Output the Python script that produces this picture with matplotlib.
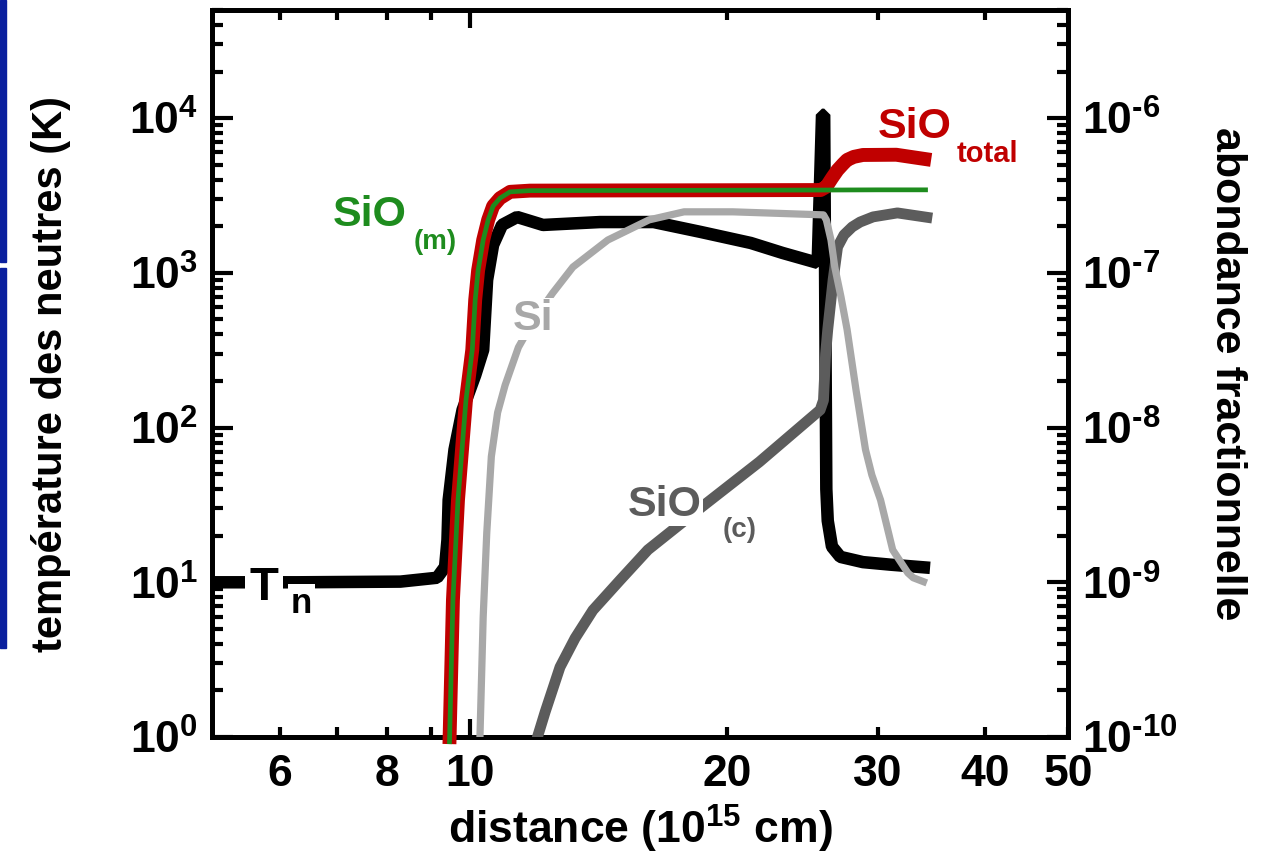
import matplotlib
matplotlib.use("Agg")
import matplotlib.pyplot as plt
from matplotlib.ticker import FixedLocator, FixedFormatter, LogLocator, NullFormatter
from matplotlib.patches import Rectangle

# ---------------- data ----------------
# neutral temperature (left axis, K)
dist_Tn = [5.0, 6.3, 8.3, 9.16, 9.36, 9.42, 9.45, 9.6, 9.81, 10.15, 10.37, 10.48, 10.65,
           10.91, 11.36, 12.18, 14.2, 16.4, 18.6, 21.3, 23.2, 25.5, 25.8, 25.95, 26.1,
           26.2, 26.5, 27.1, 28.8, 31.0, 34.5]
T_n = [10.0, 10.0, 10.1, 10.7, 12.6, 18.8, 34, 72, 130, 218, 318, 900, 1515,
       2040, 2296, 2040, 2130, 2130, 1840, 1560, 1345, 1160, 10500, 10500, 40,
       25, 17, 14.6, 13.5, 13.0, 12.4]

# SiO in the molecular phase (right axis)
dist_SiOm = [9.47, 9.56, 9.69, 9.9, 10.07, 10.15, 10.23, 10.37, 10.51, 10.65, 10.85,
             11.15, 11.76, 15.0, 20.0, 25.9, 30.0, 34.3]
SiO_m = [9e-11, 7.7e-10, 3.4e-9, 1.5e-8, 3.18e-8, 6.7e-8, 1.04e-7, 1.63e-7, 2.2e-7,
         2.7e-7, 3.04e-7, 3.34e-7, 3.4e-7, 3.41e-7, 3.42e-7, 3.43e-7, 3.44e-7, 3.44e-7]

# total SiO
dist_SiOt = [9.47, 9.56, 9.69, 9.9, 10.07, 10.15, 10.23, 10.37, 10.51, 10.65, 10.85,
             11.15, 11.76, 15.0, 20.0, 25.7, 26.1, 26.5, 26.9, 27.3, 27.6, 28.1, 28.8,
             31.5, 34.6]
SiO_tot = [9e-11, 7.7e-10, 3.4e-9, 1.5e-8, 3.18e-8, 6.7e-8, 1.04e-7, 1.63e-7, 2.2e-7,
           2.7e-7, 3.04e-7, 3.34e-7, 3.4e-7, 3.41e-7, 3.42e-7, 3.43e-7, 3.6e-7, 4.1e-7,
           4.62e-7, 5.05e-7, 5.37e-7, 5.62e-7, 5.78e-7, 5.8e-7, 5.37e-7]

# atomic Si
dist_Si = [10.25, 10.28, 10.37, 10.47, 10.6, 10.78, 11.0, 11.4, 11.92, 12.5, 13.2,
           14.5, 16.2, 17.8, 20.3, 25.9, 26.1, 26.43, 26.7, 27.15, 27.6, 28.27, 29.0,
           29.5, 30.2, 31.2, 32.5, 32.97, 34.2]
Si = [8e-11, 1e-10, 5.97e-10, 2.08e-9, 6.5e-9, 1.25e-8, 1.88e-8, 3.3e-8, 5.1e-8,
      7.4e-8, 1.09e-7, 1.63e-7, 2.2e-7, 2.48e-7, 2.48e-7, 2.37e-7, 2.2e-7, 1.63e-7,
      1.09e-7, 6.99e-8, 4.3e-8, 1.75e-8, 7.2e-9, 4.94e-9, 3.4e-9, 1.62e-9, 1.15e-9,
      1.07e-9, 9.9e-10]

# condensed SiO
dist_SiOc = [11.9, 12.0, 12.25, 12.75, 13.28, 13.93, 14.98, 16.15, 18.57, 21.8, 25.67,
             25.9, 26.05, 26.2, 26.58, 26.9, 27.37, 27.98, 28.58, 29.6, 31.6, 34.7]
SiO_c = [8e-11, 1e-10, 1.45e-10, 2.83e-10, 4.36e-10, 6.6e-10, 1.03e-9, 1.62e-9, 3.0e-9,
         6.0e-9, 1.3e-8, 1.5e-8, 3e-8, 4.3e-8, 9.0e-8, 1.47e-7, 1.76e-7, 1.98e-7,
         2.13e-7, 2.3e-7, 2.44e-7, 2.26e-7]

# axes / ticks
x_limits = [5, 50]
T_limits = [1, 5e4]
ab_limits = [1e-10, 5e-6]
x_major = [10]
x_major_labels = ["10"]
x_minor = [6, 7, 8, 9, 20, 30, 40, 50]
x_minor_labels = ["6", "", "8", "", "20", "30", "40", "50"]
T_ticks = [1, 10, 100, 1000, 10000]
T_tick_labels = [r"$10^{0}$", r"$10^{1}$", r"$10^{2}$", r"$10^{3}$", r"$10^{4}$"]
ab_ticks = [1e-10, 1e-9, 1e-8, 1e-7, 1e-6]
ab_tick_labels = [r"$10^{\text{-}10}$", r"$10^{\text{-}9}$", r"$10^{\text{-}8}$",
                  r"$10^{\text{-}7}$", r"$10^{\text{-}6}$"]

xlabel = r"distance (10$^{15}$ cm)"
ylabel_left = "température des neutres (K)"
ylabel_right = "abondance fractionnelle"

# ---------------- style ----------------
plt.rcParams.update({
    "font.family": ["Liberation Sans", "DejaVu Sans"],
    "font.weight": "bold",
    "mathtext.fontset": "custom",
    "mathtext.rm": "Liberation Sans:bold",
    "mathtext.bf": "Liberation Sans:bold",
    "mathtext.it": "Liberation Sans:bold",
    "mathtext.default": "bf",
})

RED = "#c00000"
GREEN = "#1e8c1e"
LGREY = "#a8a8a8"
DGREY = "#5c5c5c"
BLUE = "#0a1f9e"

fig = plt.figure(figsize=(12.65, 8.65), dpi=100)
ax = fig.add_axes([212 / 1265, 128 / 865, 856 / 1265, 727 / 865])
ax2 = ax.twinx()

ax.set_xscale("log")
ax.set_yscale("log")
ax2.set_yscale("log")
ax.set_xlim(*x_limits)
ax.set_ylim(*T_limits)
ax2.set_ylim(*ab_limits)

# curves
ax.plot(dist_Tn, T_n, color="black", lw=9, solid_capstyle="butt",
        solid_joinstyle="bevel", zorder=3)
ax2.plot(dist_SiOc, SiO_c, color=DGREY, lw=7.8, solid_capstyle="butt",
         solid_joinstyle="round", zorder=3)
ax2.plot(dist_Si, Si, color=LGREY, lw=5.2, solid_capstyle="butt",
         solid_joinstyle="round", zorder=4)
ax2.plot(dist_SiOt, SiO_tot, color=RED, lw=10, solid_capstyle="butt",
         solid_joinstyle="round", zorder=5, clip_on=False)
ax2.plot(dist_SiOm, SiO_m, color=GREEN, lw=3.4, solid_capstyle="butt",
         solid_joinstyle="round", zorder=6, clip_on=False)

# spines / ticks
for a in (ax, ax2):
    for s in a.spines.values():
        s.set_linewidth(3.5)

ax.xaxis.set_major_locator(FixedLocator(x_major))
ax.xaxis.set_major_formatter(FixedFormatter(x_major_labels))
ax.xaxis.set_minor_locator(FixedLocator(x_minor))
ax.xaxis.set_minor_formatter(FixedFormatter(x_minor_labels))

ax.yaxis.set_major_locator(FixedLocator(T_ticks))
ax.yaxis.set_major_formatter(FixedFormatter(T_tick_labels))
ax.yaxis.set_minor_locator(LogLocator(base=10, subs=range(2, 10), numticks=20))
ax.yaxis.set_minor_formatter(NullFormatter())

ax2.yaxis.set_major_locator(FixedLocator(ab_ticks))
ax2.yaxis.set_major_formatter(FixedFormatter(ab_tick_labels))
ax2.yaxis.set_minor_locator(LogLocator(base=10, subs=range(2, 10), numticks=20))
ax2.yaxis.set_minor_formatter(NullFormatter())

TICK_FS = 32
ax.tick_params(axis="x", which="both", direction="in", top=True, bottom=True,
               labelsize=TICK_FS, pad=12)
ax.tick_params(axis="x", which="major", length=13, width=3)
ax.tick_params(axis="x", which="minor", length=7, width=3)
ax.tick_params(axis="y", which="both", direction="in", left=True, right=False,
               labelsize=TICK_FS, pad=10)
ax.tick_params(axis="y", which="major", length=15, width=3)
ax.tick_params(axis="y", which="minor", length=8, width=3)
ax2.tick_params(axis="y", which="both", direction="in", right=True, left=False,
                labelsize=TICK_FS, pad=10)
ax2.tick_params(axis="y", which="major", length=15, width=3)
ax2.tick_params(axis="y", which="minor", length=8, width=3)

lab_font = dict(family=["Liberation Sans", "DejaVu Sans"], weight="bold")
ax.set_xlabel(xlabel, fontsize=32, labelpad=6, **lab_font)
ax.set_ylabel(ylabel_left, fontsize=30, labelpad=42, **lab_font)
ax2.set_ylabel(ylabel_right, fontsize=31, rotation=270, labelpad=50, **lab_font)

# curve labels (axes-fraction positions)
def lab(fx, fy, s, color, size, bg=False, pad=1):
    kw = {}
    if bg:
        kw["bbox"] = dict(facecolor="white", edgecolor="none", pad=pad)
    ax2.text(fx, fy, s, transform=ax.transAxes, color=color, fontsize=size,
             fontweight="bold", ha="left", va="baseline", zorder=10, **kw)

lab(0.044, 0.188, "T", "black", 34, bg=True, pad=3)
lab(0.092, 0.171, "n", "black", 25, bg=True, pad=2)
lab(0.141, 0.703, "SiO", GREEN, 31)
lab(0.235, 0.671, "(m)", GREEN, 20)
lab(0.351, 0.560, "Si", LGREY, 31, bg=True)
lab(0.486, 0.304, "SiO", DGREY, 31, bg=True)
lab(0.596, 0.275, "(c)", DGREY, 20, bg=True)
lab(0.778, 0.824, "SiO", RED, 31)
lab(0.870, 0.791, "total", RED, 21)

# blue slide-frame fragments at the left edge
fig.patches.append(Rectangle((0, 1 - 262 / 865), 6 / 1265, 262 / 865,
                             transform=fig.transFigure, color=BLUE, zorder=0))
fig.patches.append(Rectangle((0, 1 - 648 / 865), 6 / 1265, 380 / 865,
                             transform=fig.transFigure, color=BLUE, zorder=0))

fig.savefig("out.png", dpi=100)
